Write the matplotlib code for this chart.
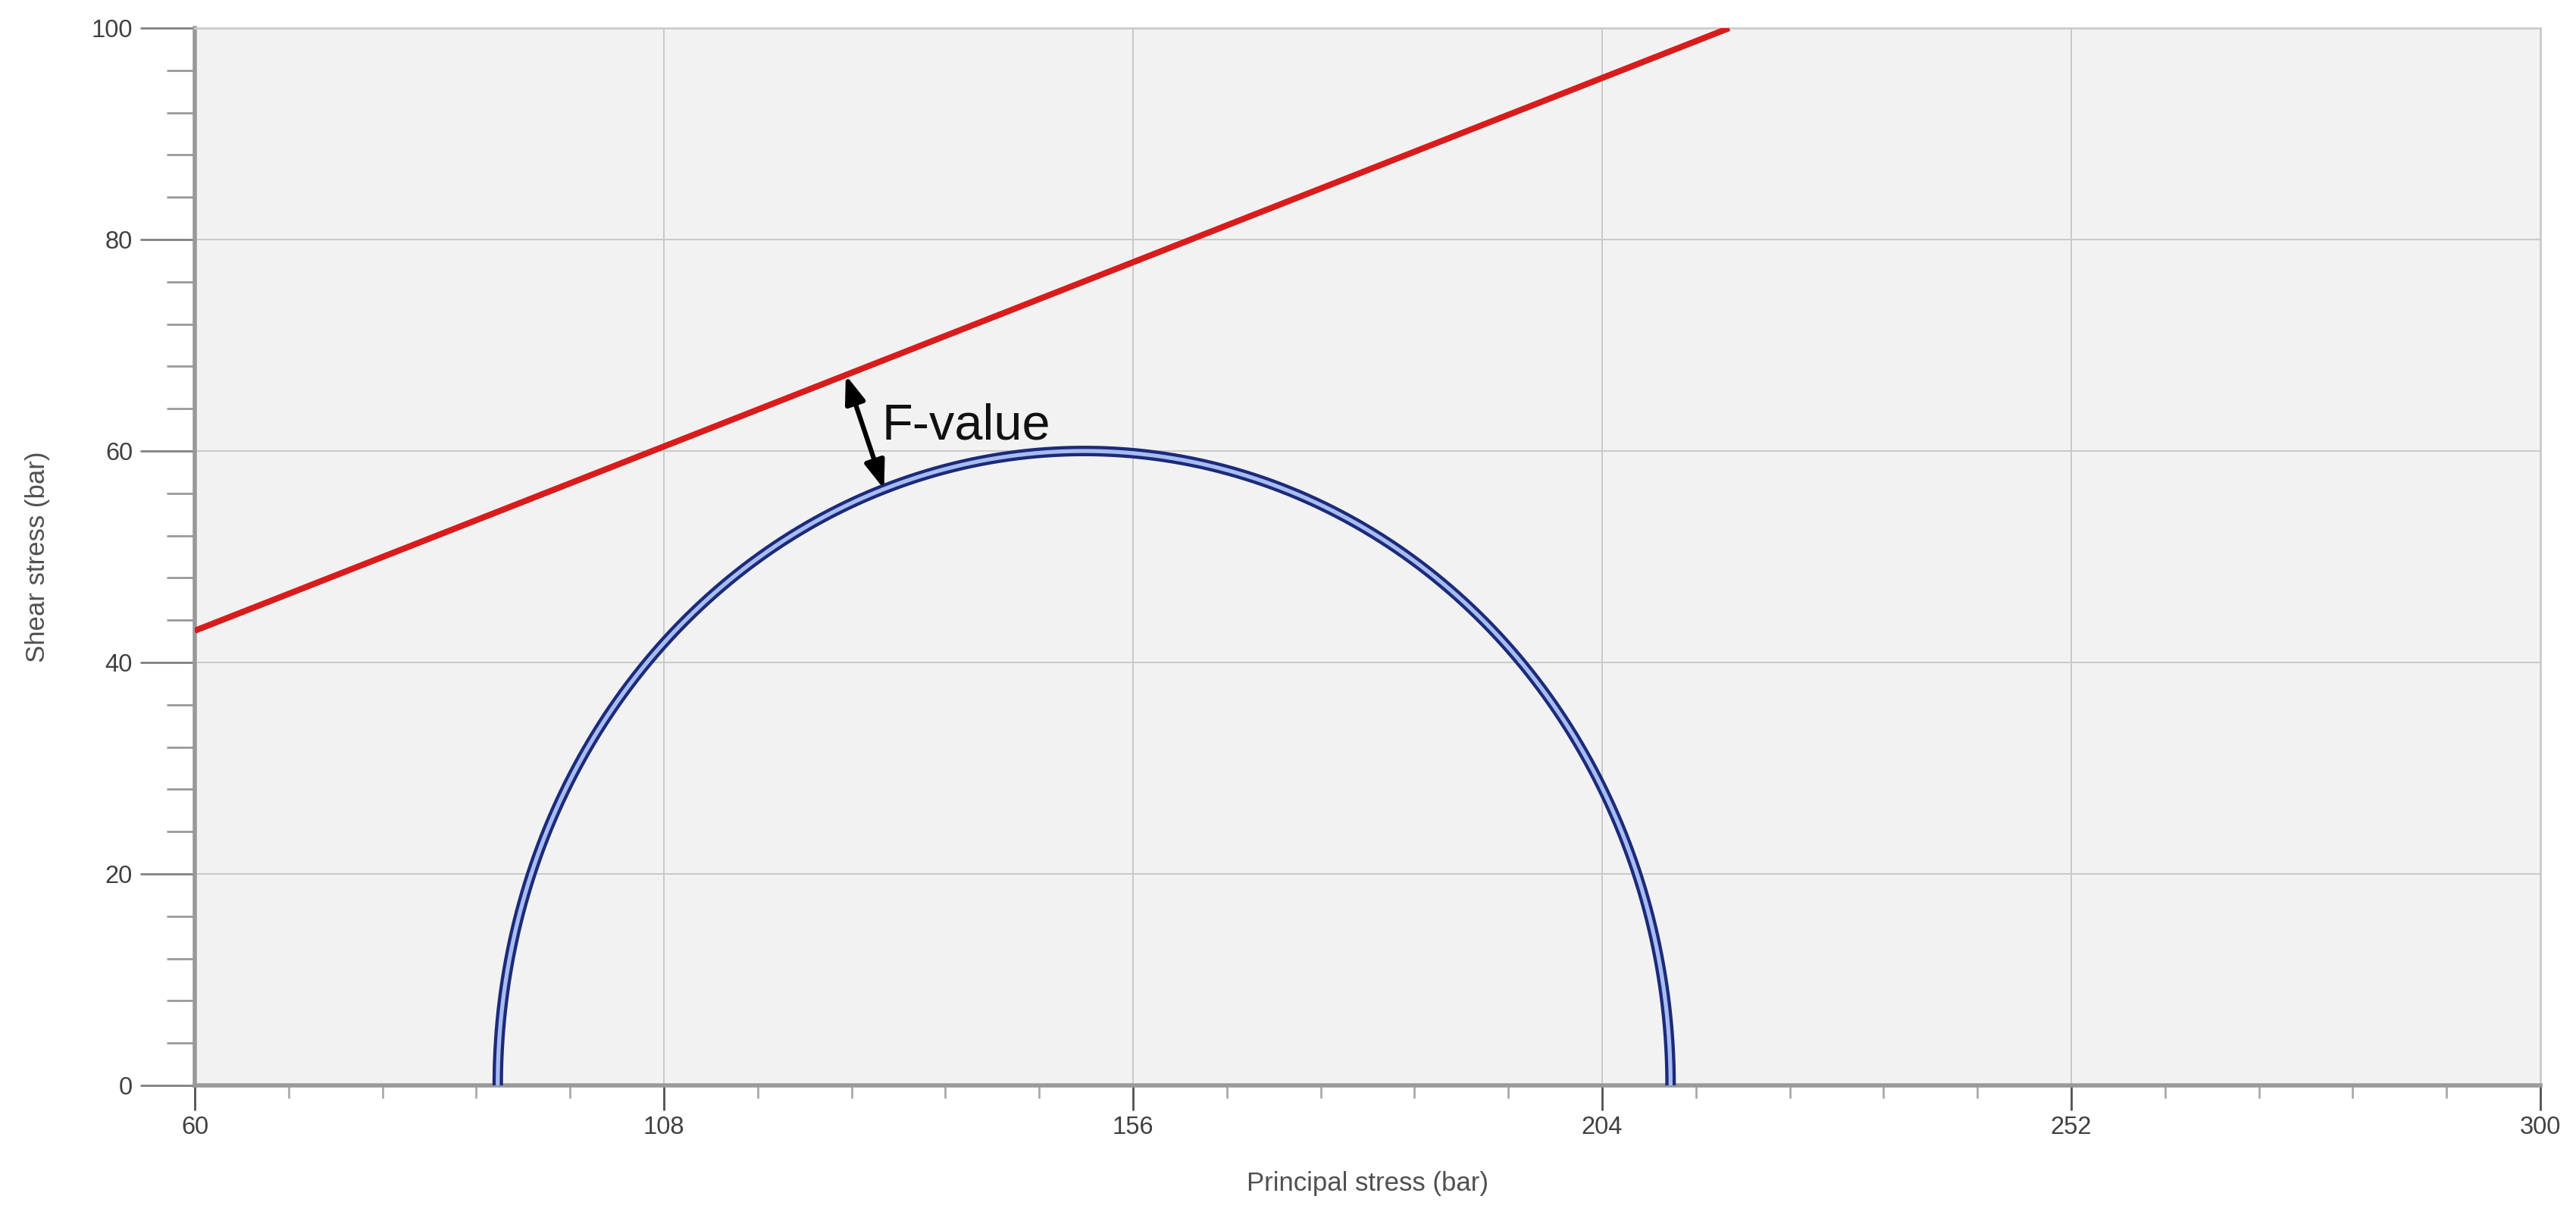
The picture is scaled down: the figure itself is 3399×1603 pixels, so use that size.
import numpy as np
import matplotlib
matplotlib.use("Agg")
import matplotlib.pyplot as plt
from matplotlib.ticker import MultipleLocator

plt.rcParams['font.family'] = ['Liberation Sans', 'DejaVu Sans']

# Mohr-Coulomb failure line
line_sigma = [60.0, 217.0]
line_tau = [43.0, 100.0]

# Mohr circle: minor and major principal stress
sigma3 = 91.0
sigma1 = 211.0

x_ticks = [60, 108, 156, 204, 252, 300]
y_ticks = [0, 20, 40, 60, 80, 100]

# circle geometry
centre = (sigma1 + sigma3) / 2
radius = (sigma1 - sigma3) / 2
theta = np.linspace(0, np.pi, 400)
circ_x = centre + radius * np.cos(theta)
circ_y = radius * np.sin(theta)

# line parameters, used for the F-value arrow (shortest gap circle -> line)
slope = (line_tau[1] - line_tau[0]) / (line_sigma[1] - line_sigma[0])
coh = line_tau[0] - slope * line_sigma[0]
n = np.array([-slope, 1.0]) / np.hypot(slope, 1.0)
dist = (coh + slope * centre) / np.hypot(slope, 1.0)
p_line = np.array([centre, 0.0]) + dist * n
p_circ = np.array([centre, 0.0]) + radius * n

fig = plt.figure(figsize=(33.99, 16.03), dpi=100)
ax = fig.add_axes([0.0756, 0.1067, 0.9106, 0.8702])
ax.set_facecolor('#f2f2f2')

ax.set_xlim(60, 300)
ax.set_ylim(0, 100)
ax.set_xticks(x_ticks)
ax.set_yticks(y_ticks)
ax.xaxis.set_minor_locator(MultipleLocator(9.6, offset=60))
ax.yaxis.set_minor_locator(MultipleLocator(4))

ax.grid(True, which='major', color='#c8c8c8', lw=1.4, zorder=0)
ax.set_axisbelow(True)

# failure envelope
ax.plot(line_sigma, line_tau, color='#d81c1c', lw=5.8, solid_capstyle='butt', zorder=3)

# Mohr circle drawn as a double line
ax.plot(circ_x, circ_y, color='#1c2a78', lw=10, zorder=3, solid_capstyle='butt')
ax.plot(circ_x, circ_y, color='#a7bcf2', lw=3.8, zorder=4, solid_capstyle='butt')

# F-value arrow
ax.annotate('', xy=tuple(p_line), xytext=tuple(p_circ),
            arrowprops=dict(arrowstyle='<|-|>,head_length=0.55,head_width=0.2',
                            color='black', lw=4.5, mutation_scale=40,
                            shrinkA=0, shrinkB=0),
            zorder=5)
ax.text(130.3, 61.1, 'F-value', fontsize=48, color='#111111', zorder=6)

# spines
for side in ['left', 'bottom']:
    ax.spines[side].set_color('#999999')
    ax.spines[side].set_linewidth(4)
for side in ['top', 'right']:
    ax.spines[side].set_color('#cccccc')
    ax.spines[side].set_linewidth(2)

ax.tick_params(axis='y', which='major', length=52, width=2, color='#808080',
               labelsize=23.5, labelcolor='#404040', pad=7)
ax.tick_params(axis='y', which='minor', length=27, width=2, color='#999999')
ax.tick_params(axis='x', which='major', length=24, width=2, color='#505050',
               labelsize=23.5, labelcolor='#404040', pad=5)
ax.tick_params(axis='x', which='minor', length=12, width=2, color='#aaaaaa')

ax.set_xlabel('Principal stress (bar)', fontsize=25, color='#505050')
ax.set_ylabel('Shear stress (bar)', fontsize=25, color='#505050')
ax.xaxis.set_label_coords(0.5, -0.081)
ax.yaxis.set_label_coords(-0.0617, 0.5)

fig.savefig('out.png', dpi=100, facecolor='white')
